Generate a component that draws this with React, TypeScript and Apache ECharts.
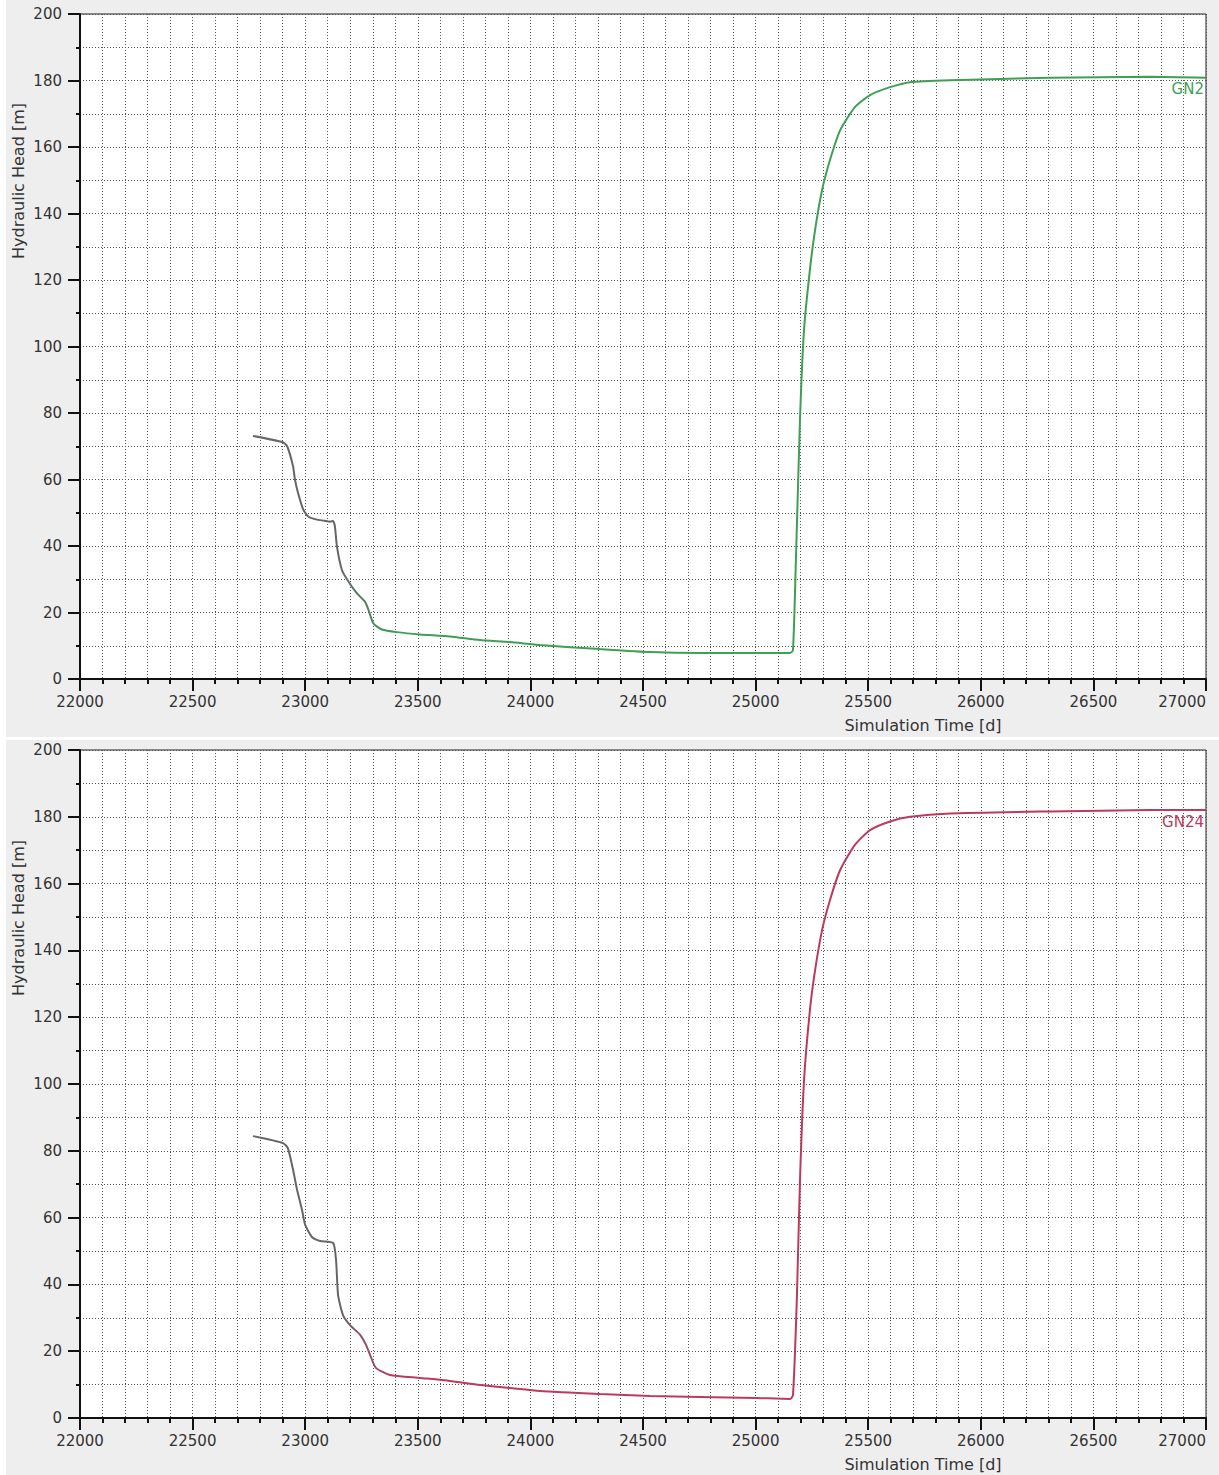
import React, { useEffect, useRef } from "react";
import * as echarts from "echarts";

const gn2Time = [22768, 22901, 22920, 22946, 22955, 22968, 22991, 23015, 23048, 23085, 23110, 23124, 23132, 23141, 23163, 23192, 23229, 23266, 23281, 23303, 23341, 23407, 23510, 23643, 23776, 23909, 24042, 24309, 24531, 24753, 25000, 25153, 25166, 25179, 25197, 25215, 25241, 25264, 25295, 25330, 25375, 25441, 25508, 25597, 25686, 25863, 26307, 26751, 27000];
const gn2Head = [73.1, 71.2, 70.0, 64.0, 59.8, 56.0, 51.0, 48.8, 48.0, 47.6, 47.3, 47.5, 45.8, 39.8, 32.8, 29.3, 25.8, 23.2, 20.8, 16.7, 14.9, 14.1, 13.4, 12.8, 11.7, 11.1, 10.2, 9.0, 8.1, 7.8, 7.8, 7.8, 8.7, 35.8, 77.9, 105, 123, 135, 147, 156, 165, 172, 175.6, 178, 179.5, 180.1, 180.8, 181.1, 180.8];

const gn24Time = [22768, 22901, 22923, 22946, 22964, 22986, 23000, 23030, 23066, 23124, 23137, 23146, 23168, 23199, 23244, 23270, 23288, 23314, 23376, 23510, 23643, 23776, 23909, 24042, 24309, 24531, 24753, 25000, 25153, 25166, 25183, 25197, 25215, 25241, 25264, 25295, 25330, 25375, 25441, 25508, 25597, 25686, 25863, 26307, 26751, 27000];
const gn24Head = [84.4, 82.3, 80.8, 74.3, 68.3, 62.3, 57.8, 54.2, 53.0, 52.4, 47.3, 36.8, 30.8, 27.8, 24.9, 21.9, 18.9, 15.0, 12.9, 12.0, 11.1, 9.9, 9.0, 8.1, 7.2, 6.6, 6.3, 6.0, 5.7, 6.9, 35.3, 71.0, 101, 122, 134, 146, 155, 164, 171.6, 176, 178.6, 180.0, 181.0, 181.6, 182.0, 182.0];

const xTicks = [22000, 22500, 23000, 23500, 24000, 24500, 25000, 25500, 26000, 26500, 27000];
const yTicks = [0, 20, 40, 60, 80, 100, 120, 140, 160, 180, 200];

const FONT = "DejaVu Sans";
const GREEN = "#3f9f55";
const CRIMSON = "#bb3a5e";

function pair(t: number[], h: number[]) {
  return t.map((v, i) => [v, h[i]]);
}

export default function App() {
  const ref = useRef<HTMLDivElement>(null);
  useEffect(() => {
    if (!ref.current) return;
    const chart = echarts.init(ref.current, null, { renderer: "svg" });
    const grids = [
      { left: 80, top: 14, width: 1126, height: 665 },
      { left: 80, top: 750, width: 1126, height: 668 },
    ];
    const dotted = { color: "#555", width: 1, type: [1, 2] as any };
    const mkX = (gi: number) => ({
      type: "value",
      gridIndex: gi,
      min: xTicks[0],
      max: xTicks[xTicks.length - 1],
      interval: 500,
      axisLine: { show: true, onZero: false, lineStyle: { color: "#111", width: 2 } },
      axisTick: { show: true, length: 12, lineStyle: { color: "#111", width: 2 } },
      minorTick: { show: true, splitNumber: 5, length: 5, lineStyle: { color: "#111", width: 2 } },
      axisLabel: {
        fontFamily: FONT, fontSize: 15, color: "#333", margin: 15,
        alignMaxLabel: "right",
        formatter: (v: number) => String(v),
      },
      splitLine: { show: true, lineStyle: dotted },
      minorSplitLine: { show: true, lineStyle: dotted },
    });
    const mkY = (gi: number) => ({
      type: "value",
      gridIndex: gi,
      min: yTicks[0],
      max: yTicks[yTicks.length - 1],
      interval: 20,
      axisLine: { show: true, lineStyle: { color: "#111", width: 2 } },
      axisTick: { show: true, length: 12, lineStyle: { color: "#111", width: 2 } },
      minorTick: { show: true, splitNumber: 2, length: 4, lineStyle: { color: "#111", width: 2 } },
      axisLabel: { fontFamily: FONT, fontSize: 15, color: "#333", margin: 18, formatter: (v: number) => String(v) },
      splitLine: { show: true, lineStyle: dotted },
      minorSplitLine: { show: true, lineStyle: dotted },
    });
    const grad = (c: string) =>
      new echarts.graphic.LinearGradient(
        339, 0, 395, 0,
        [
          { offset: 0, color: "#666666" },
          { offset: 1, color: c },
        ],
        true
      );
    const mkSeries = (gi: number, data: number[][], c: string, name: string, off: number) => ({
      type: "line",
      name,
      xAxisIndex: gi,
      yAxisIndex: gi,
      data,
      showSymbol: false,
      symbol: "none",
      smooth: 0.2,
      lineStyle: { color: grad(c), width: 2 },
      itemStyle: { color: c },
      endLabel: {
        show: true,
        formatter: name,
        color: c,
        fontFamily: FONT,
        fontSize: 15,
        align: "right",
        verticalAlign: "top",
        distance: 0,
        offset: [-2, off],
      },
    });
    chart.setOption({
      animation: false,
      backgroundColor: "#ffffff",
      graphic: [
        { type: "rect", shape: { x: 6, y: 0, width: 1213, height: 737 }, style: { fill: "#eeeeee" }, z: -10 },
        { type: "rect", shape: { x: 6, y: 740, width: 1213, height: 735 }, style: { fill: "#eeeeee" }, z: -10 },
        {
          type: "text", x: 18, y: 181, rotation: Math.PI / 2,
          style: { text: "Hydraulic Head [m]", font: `16px "${FONT}"`, fill: "#333", align: "center", verticalAlign: "middle" },
        },
        {
          type: "text", x: 18, y: 918, rotation: Math.PI / 2,
          style: { text: "Hydraulic Head [m]", font: `16px "${FONT}"`, fill: "#333", align: "center", verticalAlign: "middle" },
        },
        {
          type: "text", x: 923, y: 725,
          style: { text: "Simulation Time [d]", font: `16px "${FONT}"`, fill: "#333", align: "center", verticalAlign: "middle" },
        },
        {
          type: "text", x: 923, y: 1464,
          style: { text: "Simulation Time [d]", font: `16px "${FONT}"`, fill: "#333", align: "center", verticalAlign: "middle" },
        },
      ],
      grid: grids.map((g) => ({
        ...g,
        show: true,
        backgroundColor: "#ffffff",
        borderColor: "#222",
        borderWidth: 1,
        containLabel: false,
        outerBoundsMode: "none",
      })),
      xAxis: [mkX(0), mkX(1)],
      yAxis: [mkY(0), mkY(1)],
      series: [
        mkSeries(0, pair(gn2Time, gn2Head), GREEN, "GN2", 4),
        mkSeries(1, pair(gn24Time, gn24Head), CRIMSON, "GN24", 4),
      ],
    });
    return () => chart.dispose();
  }, []);
  return (
    <div style={{ position: "absolute", left: 0, top: 0, width: 1219, height: 1475 }}>
      <div ref={ref} style={{ width: 1219, height: 1475 }} />
    </div>
  );
}
